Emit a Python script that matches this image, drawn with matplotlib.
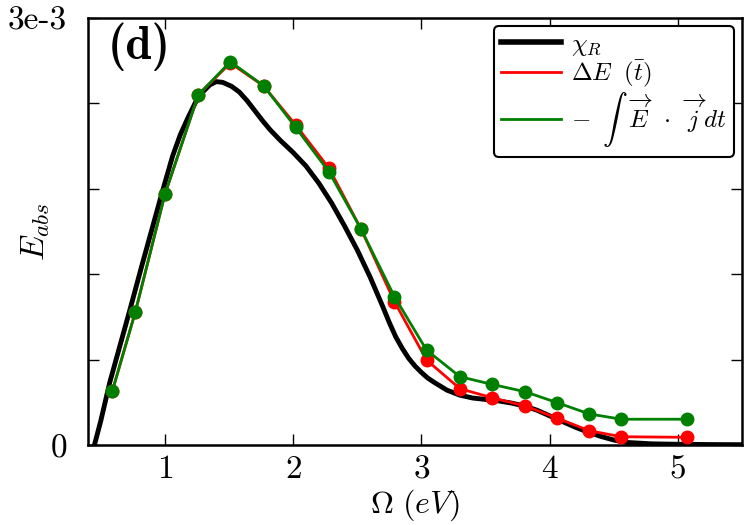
import matplotlib
matplotlib.use("Agg")
import matplotlib.pyplot as plt
from matplotlib.lines import Line2D
import numpy as np

plt.rcParams['font.family'] = ['cmr10', 'DejaVu Serif']
plt.rcParams['mathtext.fontset'] = 'cm'
plt.rcParams['axes.unicode_minus'] = False

# chi_R (black curve)
chi_x = [0.43, 0.50, 0.57, 0.65, 0.73, 0.82, 0.90, 0.98, 1.06, 1.12, 1.18, 1.24, 1.30,
         1.35, 1.40, 1.45, 1.52, 1.58, 1.64, 1.70, 1.76, 1.82, 1.90, 2.00, 2.10, 2.20,
         2.30, 2.40, 2.50, 2.60, 2.70, 2.75, 2.80, 2.85, 2.90, 2.95, 3.00, 3.05, 3.10,
         3.20, 3.30, 3.40, 3.50, 3.60, 3.70, 3.80, 3.90, 4.00, 4.10, 4.20, 4.30, 4.40,
         4.50, 4.60, 4.80, 5.00, 5.25, 5.50]
chi_y = [-0.07, 0.17, 0.44, 0.70, 0.96, 1.26, 1.52, 1.78, 2.03, 2.18, 2.30, 2.41, 2.485,
         2.53, 2.553, 2.548, 2.52, 2.48, 2.42, 2.35, 2.28, 2.215, 2.14, 2.055, 1.96, 1.84,
         1.70, 1.54, 1.37, 1.18, 0.97, 0.86, 0.76, 0.68, 0.61, 0.555, 0.51, 0.47, 0.44,
         0.385, 0.35, 0.33, 0.32, 0.31, 0.295, 0.275, 0.245, 0.205, 0.165, 0.125, 0.09,
         0.06, 0.035, 0.018, 0.008, 0.005, 0.003, 0.002]

# sampled frequencies
omega = [0.59, 0.77, 1.00, 1.26, 1.51, 1.77, 2.02, 2.28, 2.53, 2.79, 3.04, 3.30, 3.55,
         3.81, 4.06, 4.31, 4.56, 5.07]
# Delta E (t_bar)
dE = [0.379, 0.937, 1.761, 2.459, 2.684, 2.522, 2.248, 1.944, 1.516, 1.007, 0.597, 0.396,
      0.332, 0.274, 0.188, 0.100, 0.058, 0.054]
# -int E.j dt
EJ = [0.379, 0.937, 1.761, 2.459, 2.693, 2.524, 2.231, 1.918, 1.516, 1.042, 0.667, 0.480,
      0.426, 0.374, 0.297, 0.218, 0.181, 0.181]

scale = 1e-3
x_ticks = [1, 2, 3, 4, 5]
x_ticklabels = ['$1$', '$2$', '$3$', '$4$', '$5$']
y_ticks = [0, 0.6e-3, 1.2e-3, 1.8e-3, 2.4e-3, 3.0e-3]
y_ticklabels = ['$0$', '', '', '', '', '3e-3']

labels = [r'$\chi_R$', r'$\Delta E\;\ (\bar{t})$',
          r'$-\;\;\int\;\;\overrightarrow{E}\;\;\cdot\;\;\overrightarrow{j}\;dt$']
colors = ['k', '#ff0000', '#008000']

fig = plt.figure(figsize=(7.5, 5.25), dpi=100)
ax = fig.add_axes([0.1173, 0.1524, 0.872, 0.8133])

ax.plot(chi_x, np.array(chi_y) * scale, color=colors[0], lw=3.5, zorder=2)
ax.plot(omega, np.array(dE) * scale, color=colors[1], lw=2, marker='o', ms=9,
        mec=colors[1], zorder=3)
ax.plot(omega, np.array(EJ) * scale, color=colors[2], lw=2, marker='o', ms=9,
        mec=colors[2], zorder=4)

ax.set_xlim(0.4, 5.5)
ax.set_ylim(0, 3e-3)
ax.set_xticks(x_ticks)
ax.set_xticklabels(x_ticklabels)
ax.set_yticks(y_ticks)
ax.set_yticklabels(y_ticklabels)
ax.tick_params(direction='in', length=8, width=1, top=True, right=True, labelsize=24)
ax.tick_params(axis='x', pad=7)
ax.tick_params(axis='y', pad=15)
for s in ax.spines.values():
    s.set_linewidth(1.8)

ax.set_xlabel(r'$\Omega\ (eV)$', fontsize=23)
ax.set_ylabel(r'$E_{abs}$', fontsize=24)
ax.xaxis.set_label_coords(0.5, -0.10)
ax.yaxis.set_label_coords(-0.055, 0.5)

ax.text(0.03, 0.99, '(d)', transform=ax.transAxes, fontsize=34, family='cmb10',
        va='top', ha='left')

handles = [Line2D([], [], color=colors[0], lw=4),
           Line2D([], [], color=colors[1], lw=2),
           Line2D([], [], color=colors[2], lw=2)]
leg = ax.legend(handles, labels, loc='upper right', fontsize=18, fancybox=True,
                framealpha=1, edgecolor='k', handlelength=2.4, borderaxespad=0.3,
                labelspacing=0.05, handletextpad=0.4, borderpad=0.3)
leg.get_frame().set_linewidth(1.5)

fig.savefig('out.png', dpi=100)
